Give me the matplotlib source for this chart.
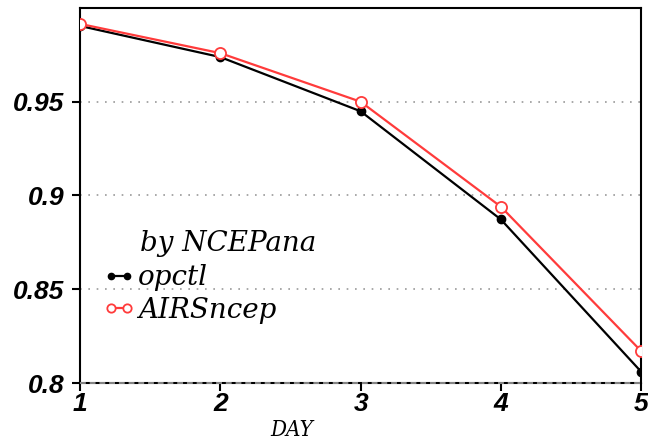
import matplotlib.pyplot as plt

days = [1, 2, 3, 4, 5]
opctl = [0.9904, 0.9738, 0.9449, 0.8872, 0.806]
airs_ncep = [0.9915, 0.9759, 0.9500, 0.8940, 0.817]
yticks = [0.8, 0.85, 0.9, 0.95]
ytick_labels = ["0.8", "0.85", "0.9", "0.95"]

serif_it = {"family": "DejaVu Serif", "style": "italic", "size": 20}

fig = plt.figure(figsize=(6.48, 4.41), dpi=100)
ax = fig.add_axes([0.1235, 0.1315, 0.866, 0.8505])

ax.plot(days, opctl, color="black", lw=1.6, marker="o", ms=6,
        mfc="black", mec="black", label="opctl", zorder=3)
ax.plot(days, airs_ncep, color="#ff3b3b", lw=1.6, marker="o", ms=8,
        mfc="white", mec="#ff3b3b", mew=1.3, label="AIRSncep", zorder=4)

ax.set_xlim(1, 5)
ax.set_ylim(0.8, 1.0)
ax.set_xticks(days)
ax.set_yticks(yticks)
ax.set_yticklabels(ytick_labels)

for y in yticks[1:]:
    ax.axhline(y, color="#999999", lw=1.2, ls=(0, (1, 4)), zorder=1)
ax.axhline(0.8, color="#888888", lw=1.4, ls=(0, (3, 2)), zorder=5, clip_on=False)

for lab in ax.get_xticklabels() + ax.get_yticklabels():
    lab.set_fontfamily("Liberation Sans")
    lab.set_fontweight("bold")
    lab.set_fontstyle("italic")
    lab.set_fontsize(19)

ax.tick_params(direction="out", length=5.5, width=1.5)
ax.tick_params(axis="y", pad=6)
ax.tick_params(axis="x", pad=1)
for s in ax.spines.values():
    s.set_linewidth(1.5)

ax.set_xlabel("DAY", family="DejaVu Serif", style="italic", stretch="condensed",
              fontsize=16)
ax.xaxis.set_label_coords(0.378, -0.124)
ax.xaxis.label.set_va("center")

ax.text(0.107, 0.373, "by NCEPana", transform=ax.transAxes, va="center", **serif_it)
leg = ax.legend(loc="center left", bbox_to_anchor=(0.021, 0.237), frameon=False,
                borderaxespad=0, numpoints=2, markerscale=0.75, handlelength=1.15,
                handletextpad=0.1, labelspacing=0.2, prop=serif_it)

fig.savefig("out.png", dpi=100)
